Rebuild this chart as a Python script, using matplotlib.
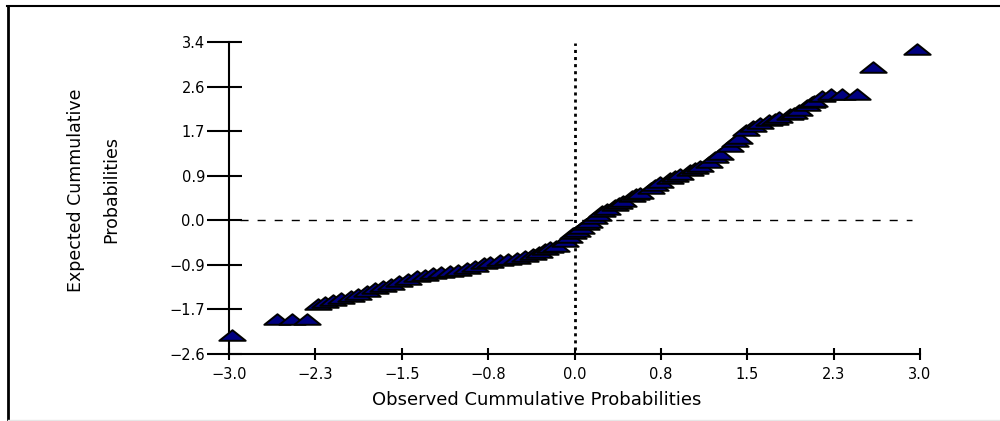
import numpy as np
import matplotlib
matplotlib.use("Agg")
import matplotlib.pyplot as plt
from matplotlib.path import Path
from matplotlib.lines import Line2D

# observed vs expected values
obs_x = [-2.97, -2.58, -2.45, -2.32,
         -2.23, -2.17, -2.10, -2.03, -1.94, -1.88, -1.80, -1.73, -1.66, -1.59,
         -1.52, -1.45, -1.37, -1.30, -1.23, -1.16, -1.08, -1.01, -0.93, -0.86,
         -0.79, -0.73, -0.65, -0.58, -0.50, -0.43, -0.36, -0.31, -0.26, -0.21,
         -0.16, -0.08, -0.05, -0.01, 0.02, 0.06, 0.10, 0.13, 0.17, 0.20, 0.24,
         0.28, 0.35, 0.39, 0.42, 0.50, 0.53, 0.57, 0.66, 0.70, 0.74, 0.83,
         0.87, 0.92, 1.00, 1.05, 1.09, 1.17, 1.22, 1.26, 1.35, 1.39, 1.43,
         1.49, 1.55, 1.61, 1.69, 1.74, 1.78, 1.87, 1.91, 1.95, 2.02, 2.06,
         2.08, 2.15, 2.23, 2.32, 2.45,
         2.59, 2.97]
exp_y = [-2.20, -1.90, -1.90, -1.90,
         -1.60, -1.58, -1.54, -1.50, -1.45, -1.41, -1.35, -1.31, -1.26, -1.22,
         -1.16, -1.12, -1.08, -1.06, -1.02, -1.00, -0.97, -0.95, -0.91, -0.87,
         -0.83, -0.81, -0.77, -0.75, -0.72, -0.68, -0.64, -0.60, -0.56, -0.52,
         -0.49, -0.39, -0.33, -0.25, -0.20, -0.14, -0.08, -0.04, 0.04, 0.11,
         0.17, 0.21, 0.30, 0.34, 0.38, 0.46, 0.50, 0.52, 0.63, 0.67, 0.73,
         0.82, 0.86, 0.90, 0.96, 1.00, 1.04, 1.13, 1.21, 1.27, 1.42, 1.52,
         1.59, 1.73, 1.82, 1.88, 1.92, 1.94, 1.98, 2.04, 2.07, 2.13, 2.21,
         2.27, 2.30, 2.40, 2.42, 2.42, 2.42,
         2.94, 3.29]

x_ticks = [k * 0.75 for k in range(-4, 5)]
x_labels = ['−3.0', '−2.3', '−1.5', '−0.8', '0.0', '0.8', '1.5', '2.3', '3.0']
y_ticks = [k * 6 / 7 for k in range(-3, 5)]
y_labels = ['−2.6', '−1.7', '−0.9', '0.0', '0.9', '1.7', '2.6', '3.4']

plt.rcParams['font.family'] = ['DejaVu Sans']

fig = plt.figure(figsize=(10, 4.21), dpi=100)
ax = fig.add_axes([0.229, 0.1591, 0.691, 0.7411])

# wide flat triangle like the original
tri = Path([(-1, -0.4), (1, -0.4), (0, 0.4), (-1, -0.4)],
           [Path.MOVETO, Path.LINETO, Path.LINETO, Path.CLOSEPOLY])

# reference lines
ax.axhline(0, xmin=0.016, xmax=0.988, color='black', lw=1,
           linestyle=(0, (5.8, 6.5)), zorder=1)
ax.axvline(0, ymin=0.013, ymax=0.997, color='black', lw=2,
           linestyle=(0, (1.1, 1.45)), zorder=1)

ax.plot(obs_x, exp_y, linestyle='none', marker=tri, markersize=19,
        markerfacecolor='#000080', markeredgecolor='black',
        markeredgewidth=1.4, zorder=3, clip_on=False)

ax.set_xlim(-3, 3)
ax.set_ylim(-18 / 7, 24 / 7)

for s in ['top', 'right']:
    ax.spines[s].set_visible(False)
for s in ['left', 'bottom']:
    ax.spines[s].set_linewidth(1.5)

ax.set_xticks(x_ticks)
ax.set_xticklabels(x_labels, fontsize=10.5)
ax.set_yticks(y_ticks)
ax.set_yticklabels(y_labels, fontsize=10.5)
ax.tick_params(axis='x', direction='inout', length=9, width=1.5, pad=5)
ax.tick_params(axis='y', direction='out', length=15.8, width=1.5, pad=1.5)
# inner part of the crossing y ticks
ax.yaxis.remove_overlapping_locs = False
ax.set_yticks(y_ticks, minor=True)
ax.tick_params(axis='y', which='minor', direction='in', length=9.4, width=1.5)

fig.text(0.537, 0.05, 'Observed Cummulative Probabilities', fontsize=13,
         ha='center', va='center')
fig.text(0.0935, 0.549, 'Expected Cummulative\nProbabilities', fontsize=12.5,
         rotation=90, ha='center', va='center', multialignment='center',
         linespacing=2.2)

# picture frame
fig.add_artist(Line2D([0.008, 0.008], [0, 0.986], color='black', lw=2))
fig.add_artist(Line2D([0.007, 1], [0.985, 0.985], color='black', lw=1.5))
fig.add_artist(Line2D([0.008, 1], [0.002, 0.002], color='#e6e6e6', lw=1))

fig.savefig('out.png', dpi=100)
